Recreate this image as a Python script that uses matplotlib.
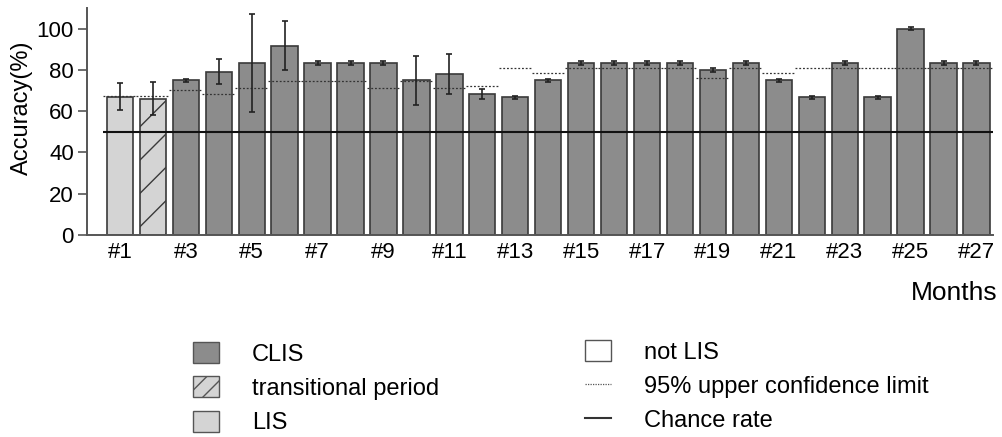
import matplotlib
matplotlib.use("Agg")
import matplotlib.pyplot as plt
from matplotlib.patches import Patch
from matplotlib.lines import Line2D

plt.rcParams["font.family"] = ["Liberation Sans", "DejaVu Sans"]
plt.rcParams["hatch.linewidth"] = 1.0

# data
months = list(range(1, 28))
accuracy = [67.0, 66.0, 75.0, 79.2, 83.3, 91.7, 83.3, 83.3, 83.3, 75.0,
            77.8, 68.3, 66.7, 75.0, 83.3, 83.3, 83.3, 83.3, 80.0, 83.3,
            75.0, 66.7, 83.3, 66.7, 100.0, 83.3, 83.3]
errors = [6.5, 8.0, 0.8, 6.0, 23.6, 11.8, 0.8, 0.8, 0.8, 11.8,
          9.7, 2.3, 0.8, 0.8, 0.8, 0.8, 0.8, 0.8, 0.8, 0.8,
          0.8, 0.8, 0.8, 0.8, 0.8, 0.8, 0.8]
upper_ci = [67.5, 67.5, 70.1, 68.5, 71.1, 74.6, 74.6, 74.6, 71.1, 74.6,
            71.1, 72.1, 81.1, 78.5, 81.1, 81.1, 81.1, 81.1, 76.3, 81.1,
            78.5, 81.1, 81.1, 81.1, 81.1, 81.1, 81.1]
# state per month: LIS, transitional, CLIS
state = ["LIS", "trans"] + ["CLIS"] * 25
chance = 50
tick_months = list(range(1, 28, 2))
tick_labels = [f"#{m}" for m in tick_months]

col_clis = "#8c8c8c"
col_lis = "#d4d4d4"
edge = "#3a3a3a"

fig = plt.figure(figsize=(10.03, 4.37), dpi=100)
ax = fig.add_axes([0.0867, 0.4622, 0.9033, 0.5195])

for m, acc, s in zip(months, accuracy, state):
    if s == "CLIS":
        ax.bar(m, acc, width=0.8, color=col_clis, edgecolor=edge, linewidth=1.2, zorder=2)
    elif s == "LIS":
        ax.bar(m, acc, width=0.8, color=col_lis, edgecolor=edge, linewidth=1.2, zorder=2)
    else:
        ax.bar(m, acc, width=0.8, color=col_lis, edgecolor=edge, linewidth=1.2,
               hatch="/", zorder=2)

ax.errorbar(months, accuracy, yerr=errors, fmt="none", ecolor="#222222",
            elinewidth=1.2, capsize=2.5, capthick=1.2, zorder=4)

for m, u in zip(months, upper_ci):
    ax.hlines(u, m - 0.5, m + 0.5, colors="#333333", linestyles=(0, (1.5, 1.5)),
              linewidth=0.9, zorder=3)

ax.hlines(chance, 0.5, 27.5, colors="#111111", linewidth=1.5, zorder=5)

ax.set_xlim(0, 27.5)
ax.set_ylim(0, 110)
ax.set_yticks([0, 20, 40, 60, 80, 100])
ax.set_xticks(tick_months)
ax.set_xticklabels(tick_labels)
ax.tick_params(axis="y", direction="out", length=6.5, width=1.2, pad=3,
               labelsize=16, color="#555555")
ax.tick_params(axis="x", direction="in", length=7, width=1.2, pad=5,
               labelsize=16, color="#555555")
for side in ("top", "right"):
    ax.spines[side].set_visible(False)
for side in ("left", "bottom"):
    ax.spines[side].set_color("#555555")
    ax.spines[side].set_linewidth(1.4)

fig.text(22 / 1003, 1 - 108 / 437, "Accuracy(%)", rotation=90, fontsize=17,
         ha="center", va="center")
fig.text(998 / 1003, 1 - 293 / 437, "Months", fontsize=19, ha="right", va="center")

h1 = [Patch(facecolor=col_clis, edgecolor="#555555"),
      Patch(facecolor=col_lis, edgecolor="#555555", hatch="//"),
      Patch(facecolor=col_lis, edgecolor="#555555")]
l1 = ["CLIS", "transitional period", "LIS"]
h2 = [Patch(facecolor="white", edgecolor="#555555"),
      Line2D([], [], color="#555555", linestyle=(0, (1, 1)), linewidth=0.9),
      Line2D([], [], color="#333333", linewidth=1.5)]
l2 = ["not LIS", "95% upper confidence limit", "Chance rate"]

leg_kw = dict(loc="upper left", frameon=False, fontsize=17, handlelength=1.1,
              handleheight=1.0, handletextpad=1.4, labelspacing=0.45,
              borderpad=0, borderaxespad=0)
fig.legend(h1, l1, bbox_to_anchor=(193 / 1003, 1 - 342 / 437), **leg_kw)
fig.legend(h2, l2, bbox_to_anchor=(585 / 1003, 1 - 340 / 437), **leg_kw)

fig.savefig("out.png", dpi=100)
